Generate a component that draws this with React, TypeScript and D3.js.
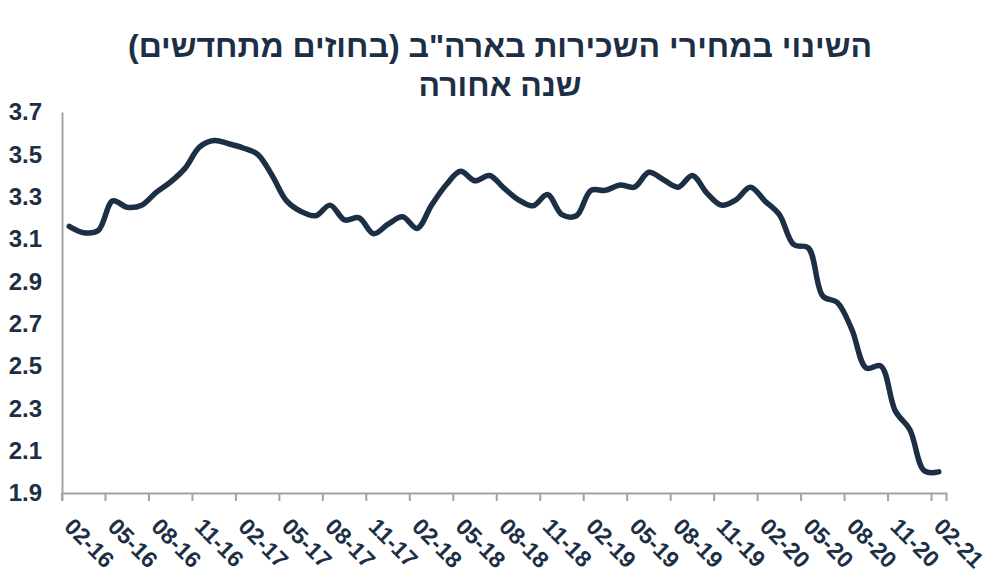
import React, { useEffect, useRef } from 'react';
import * as d3 from 'd3';

// monthly labels, 02-16 .. 02-21
const months: string[] = [];
for (let yr = 16; yr <= 21; yr++) {
  for (let m = 1; m <= 12; m++) {
    if (yr === 16 && m < 2) continue;
    if (yr === 21 && m > 2) continue;
    months.push(`${String(m).padStart(2, '0')}-${yr}`);
  }
}

const rentChange = [
  3.16, 3.13, 3.14, 3.28, 3.25, 3.26, 3.32, 3.37, 3.435, 3.535, 3.565, 3.55,
  3.53, 3.5, 3.4, 3.28, 3.23, 3.21, 3.26, 3.19, 3.2, 3.125, 3.17, 3.205,
  3.15, 3.26, 3.355, 3.42, 3.375, 3.4, 3.34, 3.285, 3.257, 3.31, 3.215, 3.21,
  3.33, 3.33, 3.355, 3.345, 3.415, 3.38, 3.345, 3.4, 3.317, 3.26, 3.285, 3.345,
  3.28, 3.215, 3.073, 3.058, 2.83, 2.8, 2.673, 2.49, 2.5, 2.288, 2.2, 2.005,
  2.0,
];

const yTicks = [1.9, 2.1, 2.3, 2.5, 2.7, 2.9, 3.1, 3.3, 3.5, 3.7];

const titleLines = ['השינוי במחירי השכירות בארה"ב (בחוזים מתחדשים)', 'שנה אחורה'];

const ink = '#1d2f45';
const axisGray = '#a3a3a3';

const App: React.FC = () => {
  const ref = useRef<SVGSVGElement | null>(null);

  useEffect(() => {
    const svg = d3.select(ref.current);
    svg.selectAll('*').remove();

    const left = 62;
    const right = 946;
    const top = 112;
    const bottom = 493;

    const x = d3.scaleBand<string>().domain(months).range([left, right]).padding(0);
    const y = d3.scaleLinear().domain([1.9, 3.7]).range([bottom, top]);

    // title
    svg.append('g')
      .selectAll('text')
      .data(titleLines)
      .enter()
      .append('text')
      .attr('x', 500)
      .attr('y', (_d, i) => 57 + i * 39)
      .attr('text-anchor', 'middle')
      .attr('direction', 'rtl')
      .attr('font-family', '"Liberation Sans", Arial, sans-serif')
      .attr('font-weight', 'bold')
      .attr('font-size', 32)
      .attr('fill', ink)
      .text((d) => d);

    // y axis
    const yAxis = svg.append('g')
      .attr('transform', `translate(${left},0)`)
      .call(d3.axisLeft(y).tickValues(yTicks).tickFormat(d3.format('.1f')).tickSize(0).tickPadding(20));
    yAxis.select('.domain').attr('stroke', axisGray).attr('stroke-width', 2);
    yAxis.selectAll('text')
      .attr('font-family', '"Liberation Sans", Arial, sans-serif')
      .attr('font-weight', 'bold')
      .attr('font-size', 24)
      .attr('fill', ink);

    // x axis, ticks every 3 months on category edges
    const tickMonths = months.filter((_d, i) => i % 3 === 0);
    const xAxis = svg.append('g')
      .attr('transform', `translate(0,${bottom})`)
      .call(d3.axisBottom(x).tickValues(tickMonths).tickSizeOuter(0).tickSize(8));
    xAxis.selectAll<SVGGElement, string>('.tick')
      .attr('transform', (d) => `translate(${x(d)!},0)`);
    xAxis.select('.domain').attr('stroke', axisGray).attr('stroke-width', 2);
    xAxis.selectAll('.tick line').attr('stroke', axisGray).attr('stroke-width', 2);
    xAxis.selectAll('.tick text')
      .attr('x', null)
      .attr('y', null)
      .attr('dy', null)
      .attr('text-anchor', 'start')
      .attr('transform', 'translate(1,35) rotate(45)')
      .attr('font-family', '"Liberation Sans", Arial, sans-serif')
      .attr('font-weight', 'bold')
      .attr('font-size', 23)
      .attr('fill', ink);

    // line
    const line = d3.line<number>()
      .x((_d, i) => x(months[i])! + x.bandwidth() / 2)
      .y((d) => y(d))
      .curve(d3.curveCatmullRom.alpha(0.5));

    svg.append('path')
      .datum(rentChange)
      .attr('d', line)
      .attr('fill', 'none')
      .attr('stroke', ink)
      .attr('stroke-width', 5.5)
      .attr('stroke-linecap', 'round')
      .attr('stroke-linejoin', 'round');
  }, []);

  return (
    <div style={{ position: 'absolute', left: 0, top: 0 }}>
      <svg ref={ref} width={1000} height={584} style={{ display: 'block', background: '#fff' }} />
    </div>
  );
};

export default App;
